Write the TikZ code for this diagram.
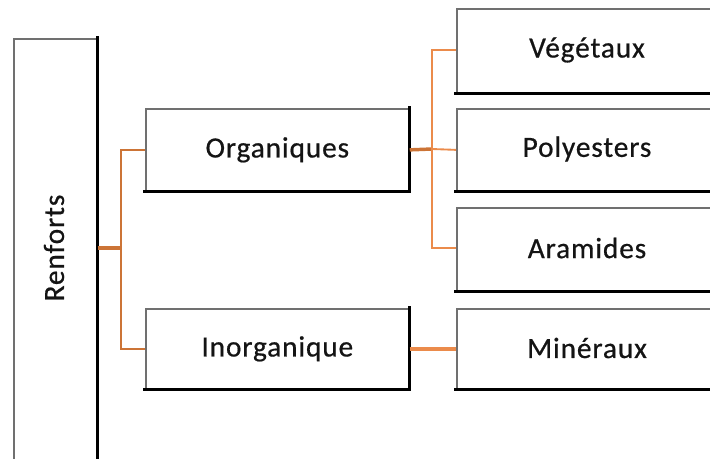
\documentclass[tikz,border=0pt]{standalone}
\usepackage{fontspec}
\setmainfont{Carlito}[LetterSpace=3,FakeBold=0.6]
\definecolor{txt}{HTML}{141414}
\definecolor{edge}{HTML}{707070}
\definecolor{linkA}{HTML}{CC7436}
\definecolor{linkB}{HTML}{EB8B4B}
\begin{document}
\begin{tikzpicture}[x=0.75pt,y=-0.75pt,
  box/.style={draw=edge,line width=1.3pt,fill=white,inner sep=0pt},
  lbl/.style={font=\fontsize{22}{25}\selectfont,text=txt},
  link/.style={line width=1.4pt},
  stem/.style={line width=2.6pt}]
\useasboundingbox (0,0) rectangle (710,458);
\clip (0,0) rectangle (710,458);
% boxes: thin grey outline, heavy dark edge on right and bottom
\newcommand{\shadedbox}[4]{%
  \node[box,minimum width=#3*0.75pt,minimum height=#4*0.75pt,anchor=north west] (#1) at #2 {};
  \draw[line width=2.3pt,line cap=rect] (#1.north east) -- (#1.south east) -- (#1.south west);}
\shadedbox{ren}{(13,38)}{83}{460}
\shadedbox{org}{(145,108)}{263}{82}
\shadedbox{inorg}{(145,308)}{263}{80}
\shadedbox{veg}{(456,8)}{300}{84}
\shadedbox{poly}{(456,108)}{300}{82}
\shadedbox{ara}{(456,207)}{300}{83}
\shadedbox{min}{(456,308)}{300}{80}
\node[lbl,rotate=90] (renlbl) at (54,248) {Renforts};
\node[lbl] (orglbl) at (org.center) {Organiques};
\node[lbl] (inorglbl) at (inorg.center) {Inorganique};
\node[lbl] (veglbl) at (587,50) {Végétaux};
\node[lbl] (polylbl) at (587,149) {Polyesters};
\node[lbl] (aralbl) at (587,248) {Aramides};
\node[lbl] (minlbl) at (587,348) {Minéraux};
% connectors from the root
\coordinate (ja) at (121,248);
\draw[stem,linkA] (ren.east |- ja) -- (ja);
\draw[link,linkA] (org.west) -| (ja) |- (inorg.west);
% connectors from Organiques
\coordinate (jb) at (432,149);
\draw[stem,linkA] (org.east) -- (jb);
\draw[link,linkB] (veg.west |- 0,50) -| (jb) |- (ara.west |- 0,248);
\draw[link,linkB] (jb) -- (poly.west);
% Inorganique to Minéraux
\draw[stem,linkB] (inorg.east) -- (min.west);
\end{tikzpicture}
\end{document}
